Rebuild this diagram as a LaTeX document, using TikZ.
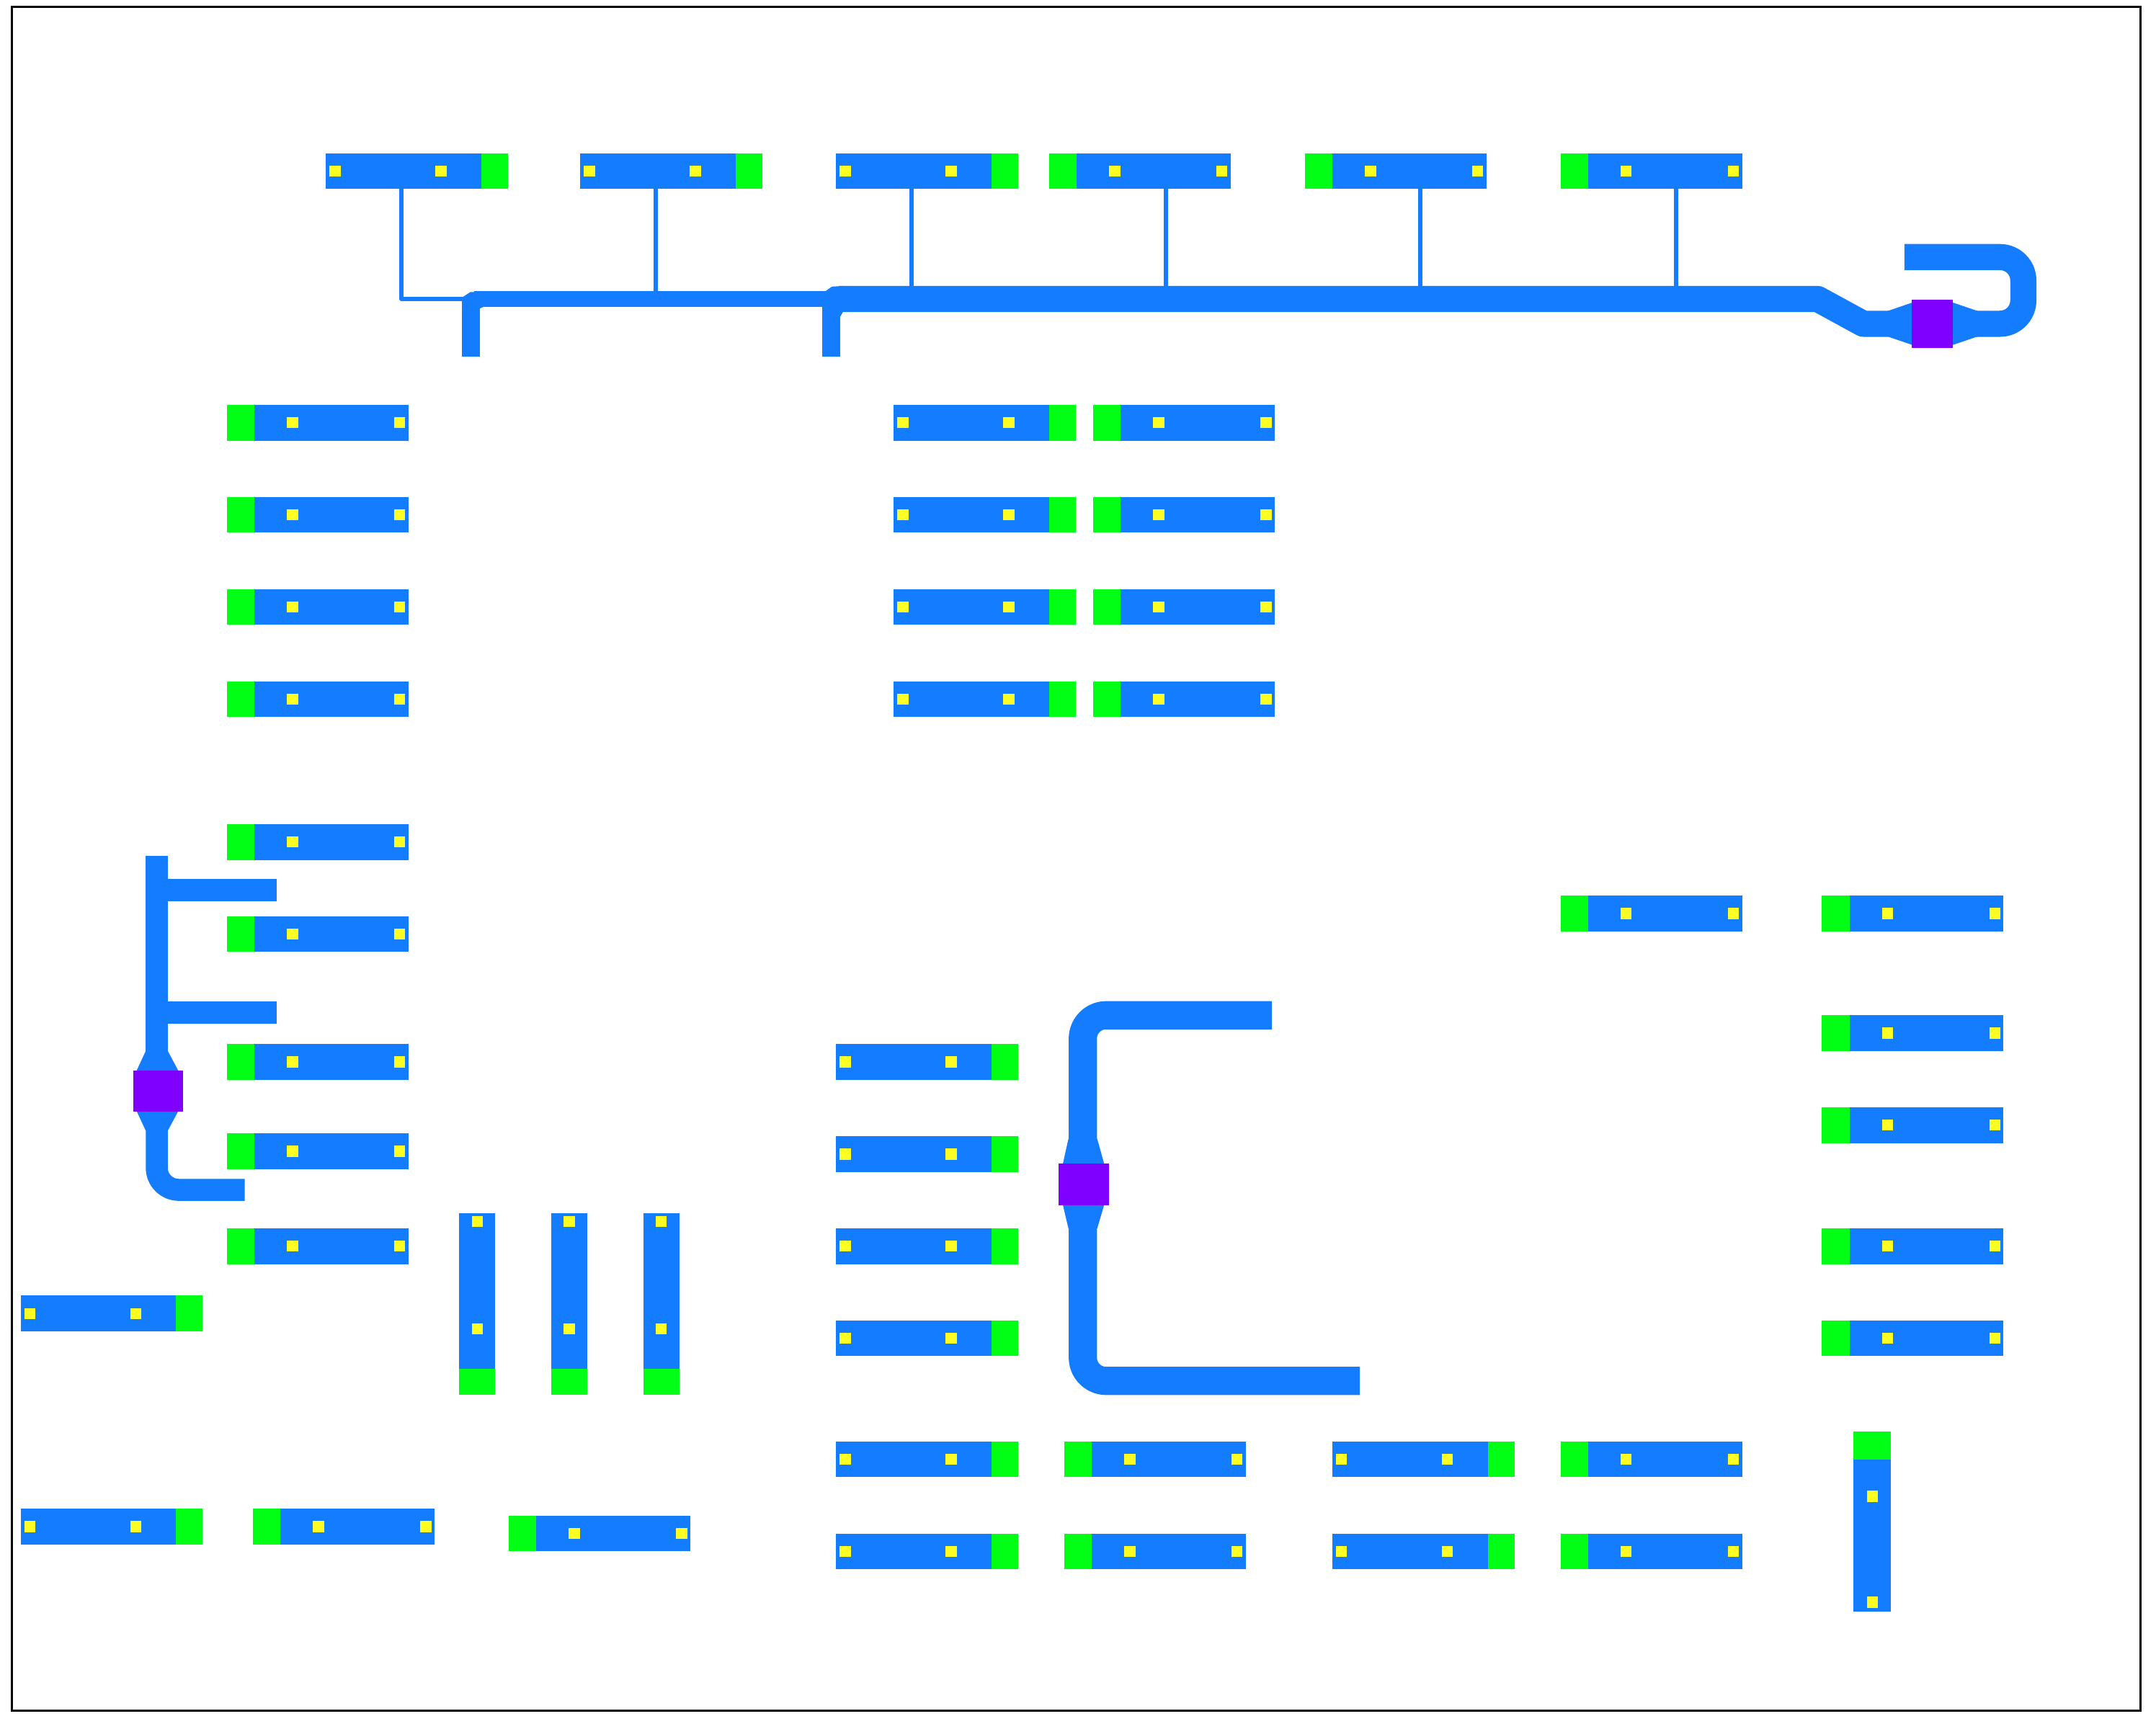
\documentclass[tikz,border=0pt]{standalone}
\definecolor{pipeblue}{RGB}{19,124,255}
\definecolor{capgreen}{RGB}{0,255,20}
\definecolor{valve}{RGB}{128,0,255}
\definecolor{dot}{RGB}{255,255,36}
\tikzset{
  bluefill/.style={fill=pipeblue},
  capfill/.style={fill=capgreen},
  dotfill/.style={fill=dot},
  valvefill/.style={fill=valve},
  pipe/.style={draw=pipeblue,line cap=butt,line join=round},
  thinpipe/.style={pipe,line width=3pt},
}
\newcommand{\dotat}[2]{\fill[dotfill] (#1-4+0.7,#2-4) rectangle (#1+4+0.7,#2+4);}
% green cap on the right; #1 = left edge, #2 = y centre
\newcommand{\boxR}[2]{%
  \fill[bluefill] (#1,#2-13) rectangle (#1+113,#2+13);
  \fill[capfill] (#1+113,#2-13) rectangle (#1+132.5,#2+13);
  \dotat{#1+6}{#2}\dotat{#1+83}{#2}}
% green cap on the left
\newcommand{\boxL}[2]{%
  \fill[capfill] (#1,#2-13) rectangle (#1+20,#2+13);
  \fill[bluefill] (#1+20,#2-13) rectangle (#1+132,#2+13);
  \dotat{#1+47}{#2}\dotat{#1+125}{#2}}
% vertical, green cap at the bottom; #1 = x centre
\newcommand{\boxB}[1]{%
  \fill[bluefill] (#1-13,882) rectangle (#1+13,995);
  \fill[capfill] (#1-13,995) rectangle (#1+13,1014);
  \dotat{#1-0.7}{888}\dotat{#1-0.7}{966}}
\begin{document}
\begin{tikzpicture}[x=1pt,y=-1pt]
\useasboundingbox (0,0) rectangle (1568,1253.6);
\fill[white] (0,0) rectangle (1568,1253.6);
\draw[black,line width=1.57pt] (8.65,5) rectangle (1556.9,1244.5);

\begin{scope}[yshift=-0.5pt]
% thin connectors
\coordinate (t1) at (292,137); \coordinate (j1) at (338,217);
\draw[thinpipe] (t1) |- (j1);
\foreach \x/\y in {477/215,663/217,848/217,1033/217,1219/217}
  \draw[thinpipe] (\x,137) -- (\x,\y);

% upper manifold
\draw[pipe,line width=11.5pt] (345,217) -- (604,217);
\fill[bluefill] (336,216) -- (342,212) -- (352,211.5) -- (352,222.5) -- (349,224) -- (349,259) -- (336,259) -- cycle;
\fill[bluefill] (598,213) -- (605,208) -- (613,207.5) -- (613,226.5) -- (611,230) -- (611,259) -- (598,259) -- cycle;
\draw[pipe,line width=19pt] (610,217) -- (1322,217) -- (1355,235) -- (1392,235);
\fill[bluefill] (1372,226) -- (1391,219.5) -- (1391,250.5) -- (1372,244) -- cycle;
\fill[bluefill] (1439,226) -- (1420,219.5) -- (1420,250.5) -- (1439,244) -- cycle;
\draw[pipe,line width=19pt,rounded corners=17pt] (1418,235) -- (1471.5,235) -- (1471.5,186.5) -- (1385,186.5);
\fill[valvefill] (1390.5,217.5) rectangle (1420,252.5);

% left manifold
\draw[pipe,line width=16pt] (114,622) -- (114,770);
\draw[pipe,line width=16pt] (114,647) -- (201,647);
\draw[pipe,line width=16pt] (114,736) -- (201,736);
\fill[bluefill] (106,764) -- (99.5,778) -- (99.5,808) -- (106,822) -- (122,822)
  -- (129.5,808) -- (129.5,778) -- (122,764) -- cycle;
\draw[pipe,line width=16pt,rounded corners=16pt] (114,815) -- (114,865) -- (178,865);
\fill[valvefill] (97,778) rectangle (133,808);

% centre manifold
\draw[pipe,line width=20.5pt,rounded corners=17pt] (925,738) -- (787.5,738) -- (787.5,1004) -- (989,1004);
\fill[bluefill] (777,828) -- (773,846) -- (773,876) -- (777,893) -- (798,893)
  -- (803,876) -- (803,846) -- (798,828) -- cycle;
\fill[valvefill] (770,846) rectangle (806.5,876);

% branch boxes
\foreach \x in {237,422,608} {\boxR{\x}{124}}
\foreach \x in {763,949,1135} {\boxL{\x}{124}}
\foreach \y in {307,374,441,508,612,679,772,837,906} {\boxL{165}{\y}}
\foreach \y in {307,374,441,508} {\boxR{650}{\y} \boxL{795}{\y}}
\boxL{1135}{664}
\foreach \y in {664,751,818,906,973} {\boxL{1325}{\y}}
\foreach \y in {772,839,906,973,1061,1128} {\boxR{608}{\y}}
\boxR{15}{955} \boxR{15}{1110} \boxL{184}{1110} \boxL{370}{1115}
\foreach \y in {1061,1128} {\boxL{774}{\y} \boxR{969}{\y} \boxL{1135}{\y}}
\foreach \x in {347,414,481} {\boxB{\x}}
% vertical, green cap on top
\fill[capfill] (1348,1041) rectangle (1375,1061);
\fill[bluefill] (1348,1061) rectangle (1375,1172);
\dotat{1361}{1088}\dotat{1361}{1165}
\end{scope}
\end{tikzpicture}
\end{document}
